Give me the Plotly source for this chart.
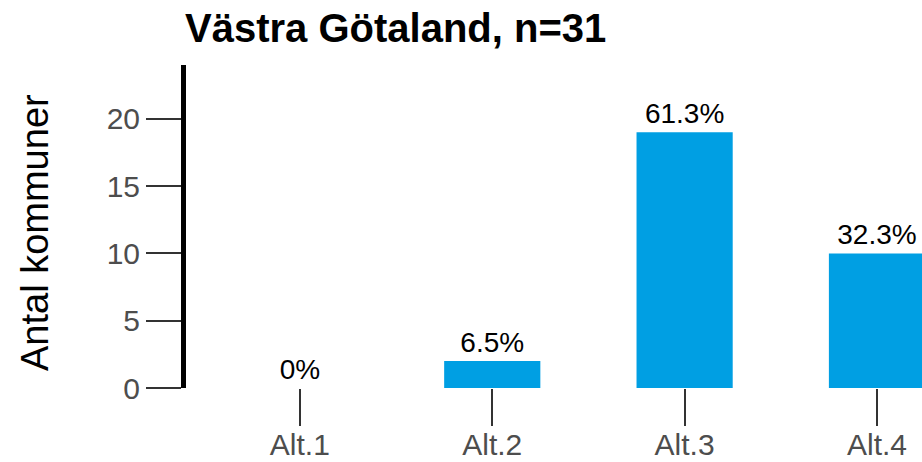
import plotly.graph_objects as go

categories = ["Alt.1", "Alt.2", "Alt.3", "Alt.4"]
counts = [0, 2, 19, 10]
pct_labels = ["0%", "6.5%", "61.3%", "32.3%"]
y_ticks = [0, 5, 10, 15, 20]
title_text = "Västra Götaland, n=31"
y_title = "Antal kommuner"

FONT = "Liberation Sans, Arial, sans-serif"
L, T, B = 186, 65, 74
PW, PH = 922 - L, 462 - T - B

fig = go.Figure()
fig.add_trace(go.Bar(
    x=categories,
    y=counts,
    text=pct_labels,
    textposition="outside",
    textfont=dict(family=FONT, size=28, color="black"),
    marker=dict(color="#009FE3", line=dict(width=0)),
    width=0.5,
    cliponaxis=False,
    constraintext="none",
))

fig.update_layout(
    template="none",
    width=922,
    height=462,
    margin=dict(l=L, r=0, t=T, b=B, pad=0),
    paper_bgcolor="white",
    plot_bgcolor="white",
    showlegend=False,
    font=dict(family=FONT),
    title=dict(
        text="<b>" + title_text + "</b>",
        font=dict(family=FONT, size=40, color="black"),
        xref="container", yref="container",
        x=185 / 922, xanchor="left",
        y=1 - 28 / 462, yanchor="middle",
    ),
    xaxis=dict(
        type="category",
        range=[-0.592, 3.234],
        automargin=False,
        showline=False,
        showgrid=False,
        zeroline=False,
        ticks="outside",
        ticklen=37,
        tickwidth=2,
        tickcolor="#333333",
        ticklabelstandoff=-7,
        tickfont=dict(family=FONT, size=30, color="#4D4D4D"),
    ),
    yaxis=dict(
        range=[0, 24],
        tickvals=y_ticks,
        automargin=False,
        showline=True,
        linewidth=5,
        linecolor="black",
        showgrid=False,
        zeroline=False,
        ticks="outside",
        ticklen=35,
        tickwidth=2,
        tickcolor="#333333",
        tickfont=dict(family=FONT, size=30, color="#4D4D4D"),
    ),
    annotations=[dict(
        text=y_title,
        textangle=-90,
        xref="paper", yref="paper",
        x=(35 - L) / PW, y=(388 - 233) / PH,
        xanchor="center", yanchor="middle",
        showarrow=False,
        font=dict(family=FONT, size=38, color="black"),
    )],
)

fig.write_html(
    "out.html",
    config={"displayModeBar": False},
    post_script="document.body.style.margin='0';document.body.style.overflow='hidden';",
)
